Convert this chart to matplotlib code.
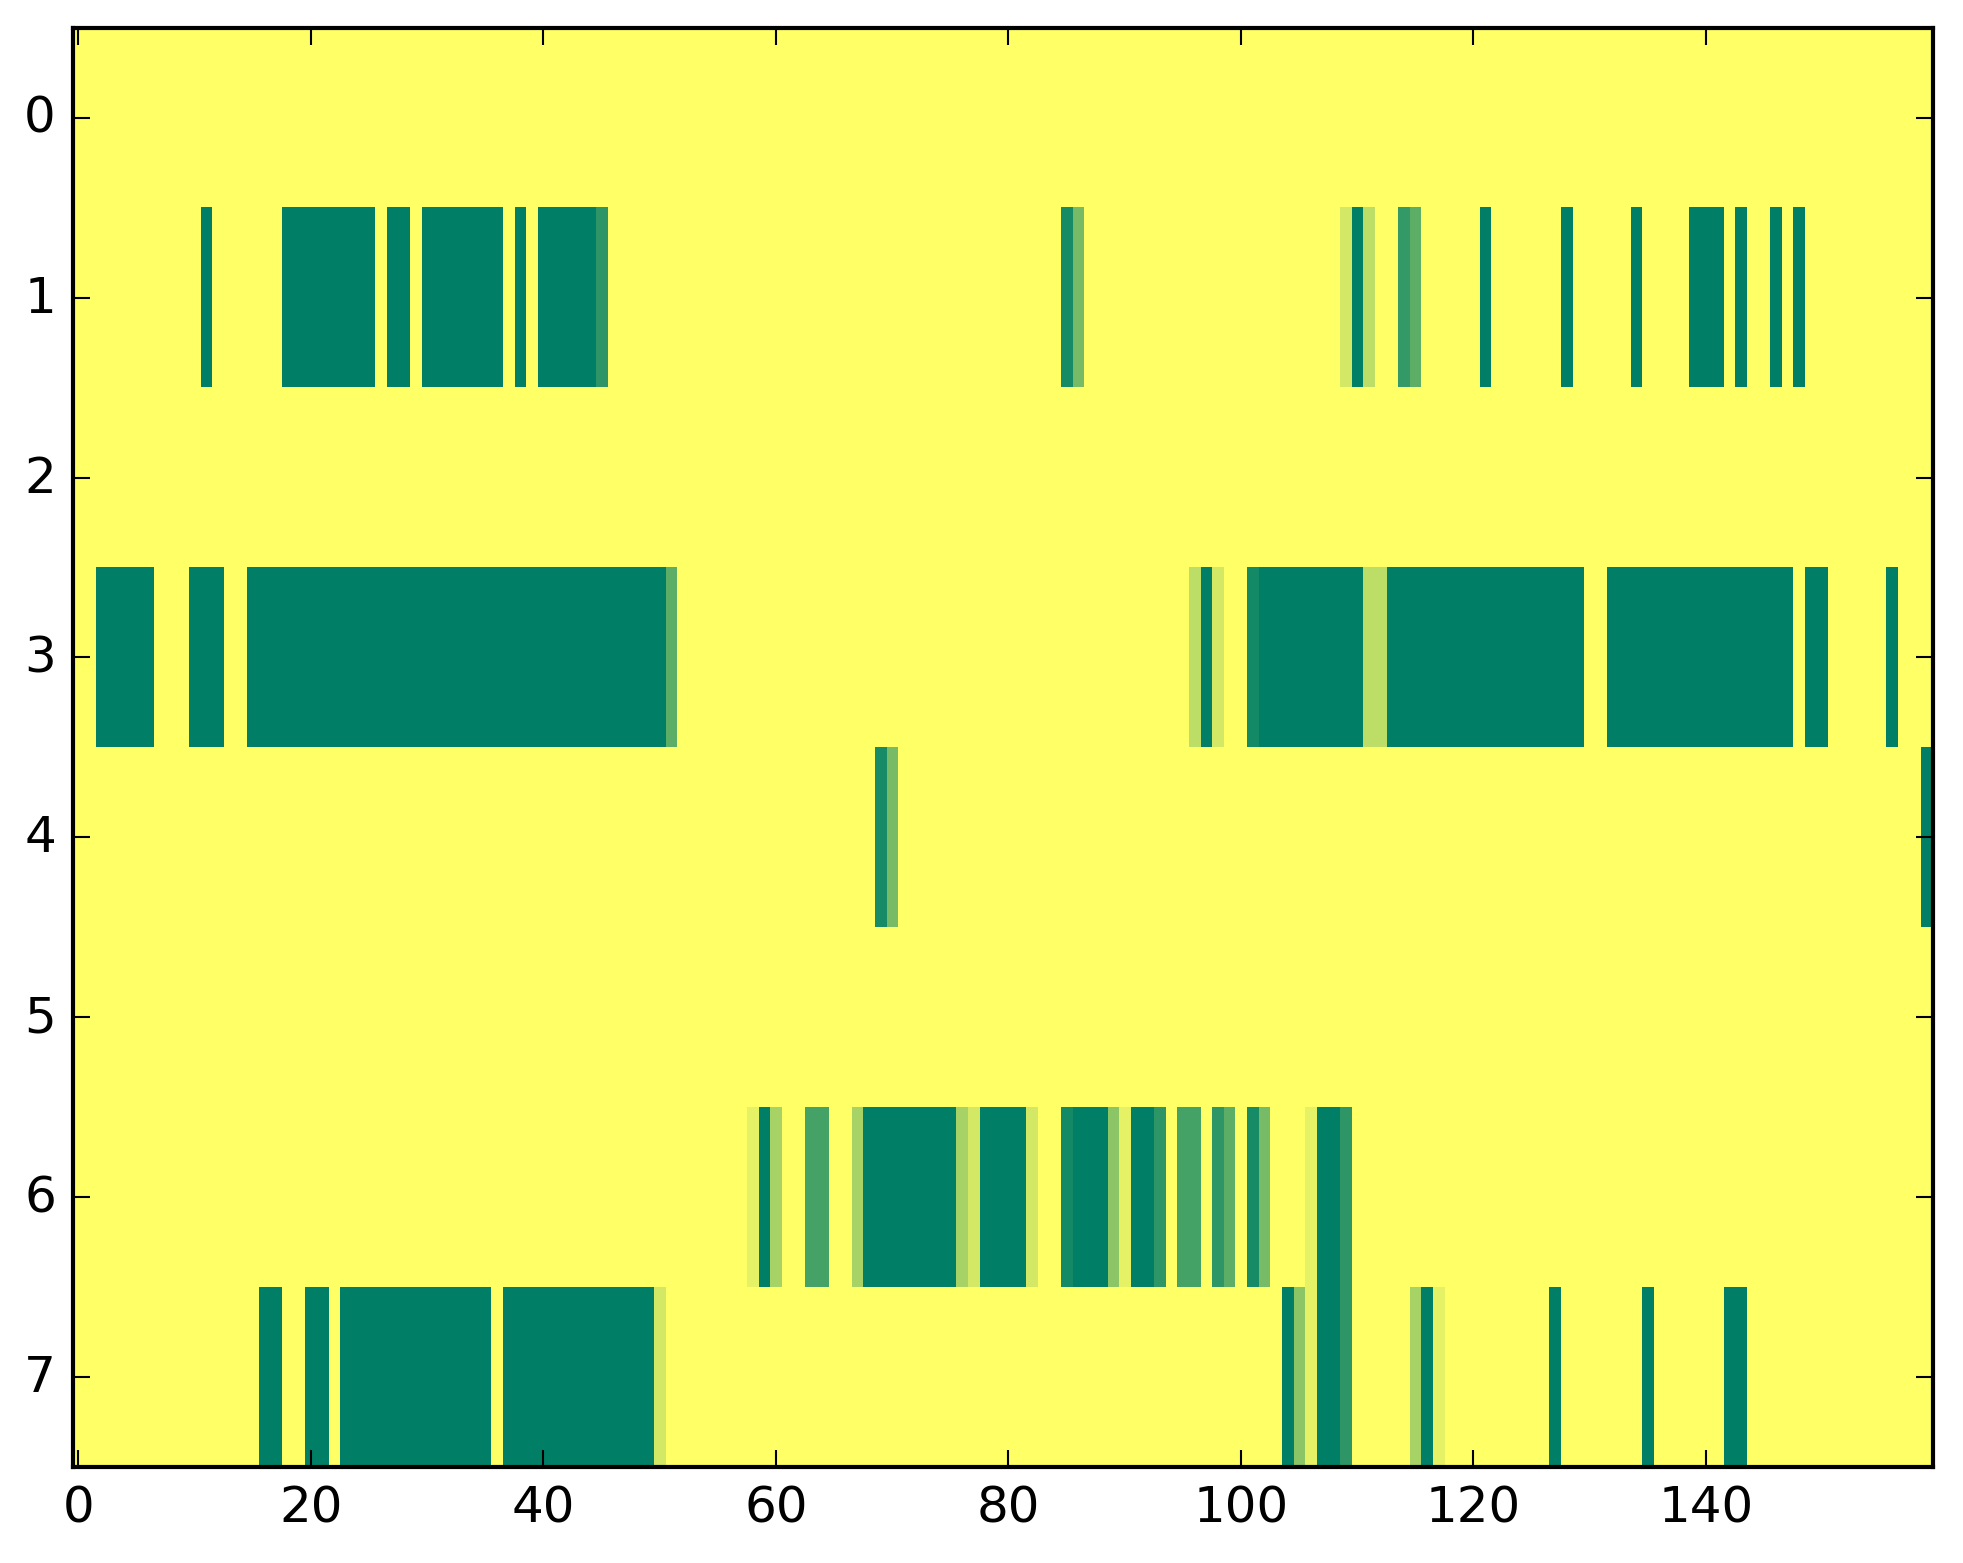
import numpy as np
import matplotlib
matplotlib.use('Agg')
import matplotlib.pyplot as plt

plt.style.use('classic')

n_rows = 8
n_cols = 160

# runs of (first column, last column, value) per row; unlisted cells are 1.0
row0 = []
row1 = [(11, 11, 0), (18, 25, 0), (27, 28, 0), (30, 36, 0), (38, 38, 0),
        (40, 44, 0), (45, 45, 0.18), (85, 85, 0.09), (86, 86, 0.47),
        (109, 109, 0.83), (110, 110, 0), (111, 111, 0.74), (114, 114, 0.2),
        (115, 115, 0.36), (121, 121, 0), (128, 128, 0), (134, 134, 0),
        (139, 141, 0), (143, 143, 0), (146, 146, 0), (148, 148, 0)]
row2 = []
row3 = [(2, 6, 0), (10, 12, 0), (15, 50, 0), (51, 51, 0.36), (96, 96, 0.74),
        (97, 97, 0), (98, 98, 0.83), (101, 101, 0.08), (102, 110, 0),
        (111, 112, 0.74), (113, 129, 0), (132, 147, 0), (149, 150, 0),
        (156, 156, 0)]
row4 = [(69, 69, 0.09), (70, 70, 0.47), (159, 159, 0)]
row5 = []
row6 = [(58, 58, 0.9), (59, 59, 0), (60, 60, 0.65), (63, 64, 0.27),
        (67, 67, 0.65), (68, 75, 0), (76, 76, 0.65), (77, 77, 0.83),
        (78, 81, 0), (82, 82, 0.83), (85, 85, 0.08), (86, 88, 0),
        (89, 89, 0.55), (90, 90, 0.9), (91, 92, 0), (93, 93, 0.18),
        (95, 96, 0.27), (98, 98, 0.18), (99, 99, 0.36), (101, 101, 0.09),
        (102, 102, 0.47), (106, 106, 0.9), (107, 108, 0), (109, 109, 0.18)]
row7 = [(16, 17, 0), (20, 21, 0), (23, 35, 0), (37, 49, 0), (50, 50, 0.83),
        (104, 104, 0), (105, 105, 0.55), (106, 106, 0.9), (107, 108, 0),
        (109, 109, 0.18), (115, 115, 0.65), (116, 116, 0), (117, 117, 0.9),
        (127, 127, 0), (135, 135, 0), (142, 143, 0)]

rows = [row0, row1, row2, row3, row4, row5, row6, row7]

grid = np.ones((n_rows, n_cols))
for r, runs in enumerate(rows):
    for start, stop, val in runs:
        grid[r, start:stop + 1] = val

fig = plt.figure(figsize=(1963 / 300, 1564 / 300), dpi=300, facecolor='white')
ax = fig.add_axes([0.037, 0.0614, 0.9475, 0.9202])
ax.imshow(grid, cmap='summer', vmin=0, vmax=1, aspect='auto',
          interpolation='nearest')
ax.set_xticks(range(0, 160, 20))
ax.set_yticks(range(n_rows))
ax.set_xlim(-0.5, n_cols - 0.5)
ax.set_ylim(n_rows - 0.5, -0.5)
ax.tick_params(labelsize=12)

fig.savefig('out.png', dpi=300, facecolor='white')
